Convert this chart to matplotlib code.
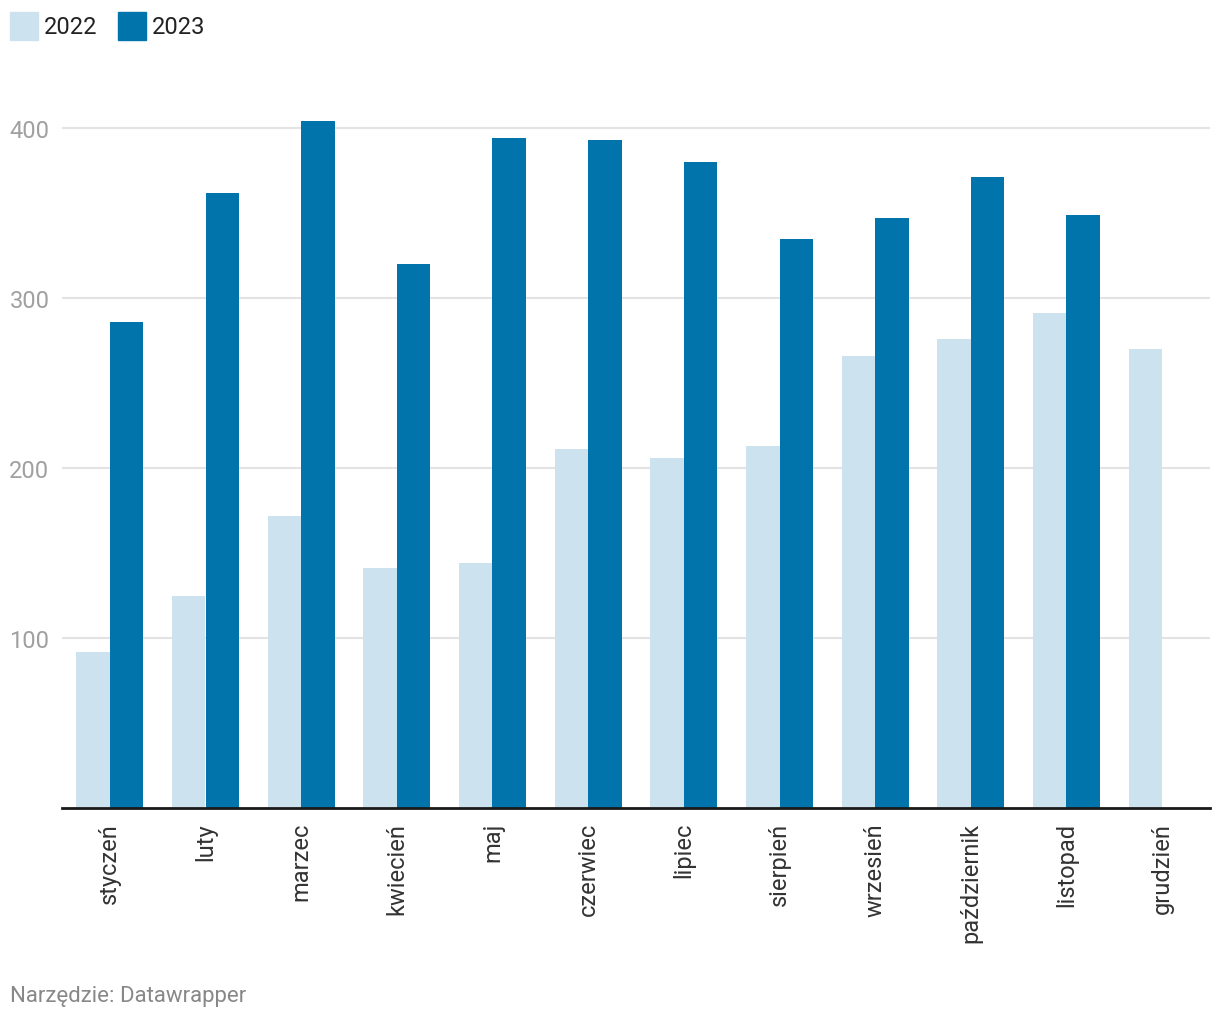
import numpy as np
import matplotlib.pyplot as plt
from matplotlib.patches import Rectangle

plt.rcParams['font.family'] = ['Roboto', 'DejaVu Sans']

# months
months = ['styczeń', 'luty', 'marzec', 'kwiecień', 'maj', 'czerwiec',
          'lipiec', 'sierpień', 'wrzesień', 'październik', 'listopad', 'grudzień']

# values
values_2022 = [92, 125, 172, 141, 144, 211, 206, 213, 266, 276, 291, 270]
values_2023 = [286, 362, 404, 320, 394, 393, 380, 335, 347, 371, 349, np.nan]

y_ticks = [100, 200, 300, 400]

c22 = '#cce3ef'
c23 = '#0074ab'

fig = plt.figure(figsize=(12.2, 10.2), dpi=100)
ax = fig.add_axes([62 / 1220, 1 - 809 / 1020, 1148 / 1220, 714 / 1020])

x = np.arange(len(months))
w = 0.35
ax.bar(x - w / 2, values_2022, width=w, color=c22, linewidth=0, zorder=2)
ax.bar(x + w / 2, values_2023, width=w, color=c23, linewidth=0, zorder=2)

ax.set_xlim(-0.5, len(months) - 0.5)
ax.set_ylim(0, 420)

ax.set_yticks(y_ticks)
ax.set_yticklabels([str(t) for t in y_ticks], fontsize=17, color='#a0a0a0')
ax.tick_params(axis='y', length=0, pad=9)
ax.grid(axis='y', color='#e3e3e3', linewidth=1.5, zorder=0)

ax.set_xticks(x)
ax.set_xticklabels(months, rotation=90, fontsize=17, color='#333333', va='top')
ax.tick_params(axis='x', length=0, pad=10)

for s in ['top', 'right', 'left']:
    ax.spines[s].set_visible(False)
ax.spines['bottom'].set_color('#1a1a1a')
ax.spines['bottom'].set_linewidth(2)
ax.spines['bottom'].set_zorder(3)

# legend at top left
fig.add_artist(Rectangle((10 / 1220, 1 - 41 / 1020), 28 / 1220, 28 / 1020,
                         transform=fig.transFigure, color=c22))
fig.text(44 / 1220, 1 - 27 / 1020, '2022', fontsize=17, color='#222222', va='center')
fig.add_artist(Rectangle((118 / 1220, 1 - 41 / 1020), 28 / 1220, 28 / 1020,
                         transform=fig.transFigure, color=c23))
fig.text(152 / 1220, 1 - 27 / 1020, '2023', fontsize=17, color='#222222', va='center')

fig.text(10 / 1220, 1 - 997 / 1020, 'Narzędzie: Datawrapper', fontsize=16,
         color='#888888', va='center')

plt.savefig('out.png', dpi=100)
